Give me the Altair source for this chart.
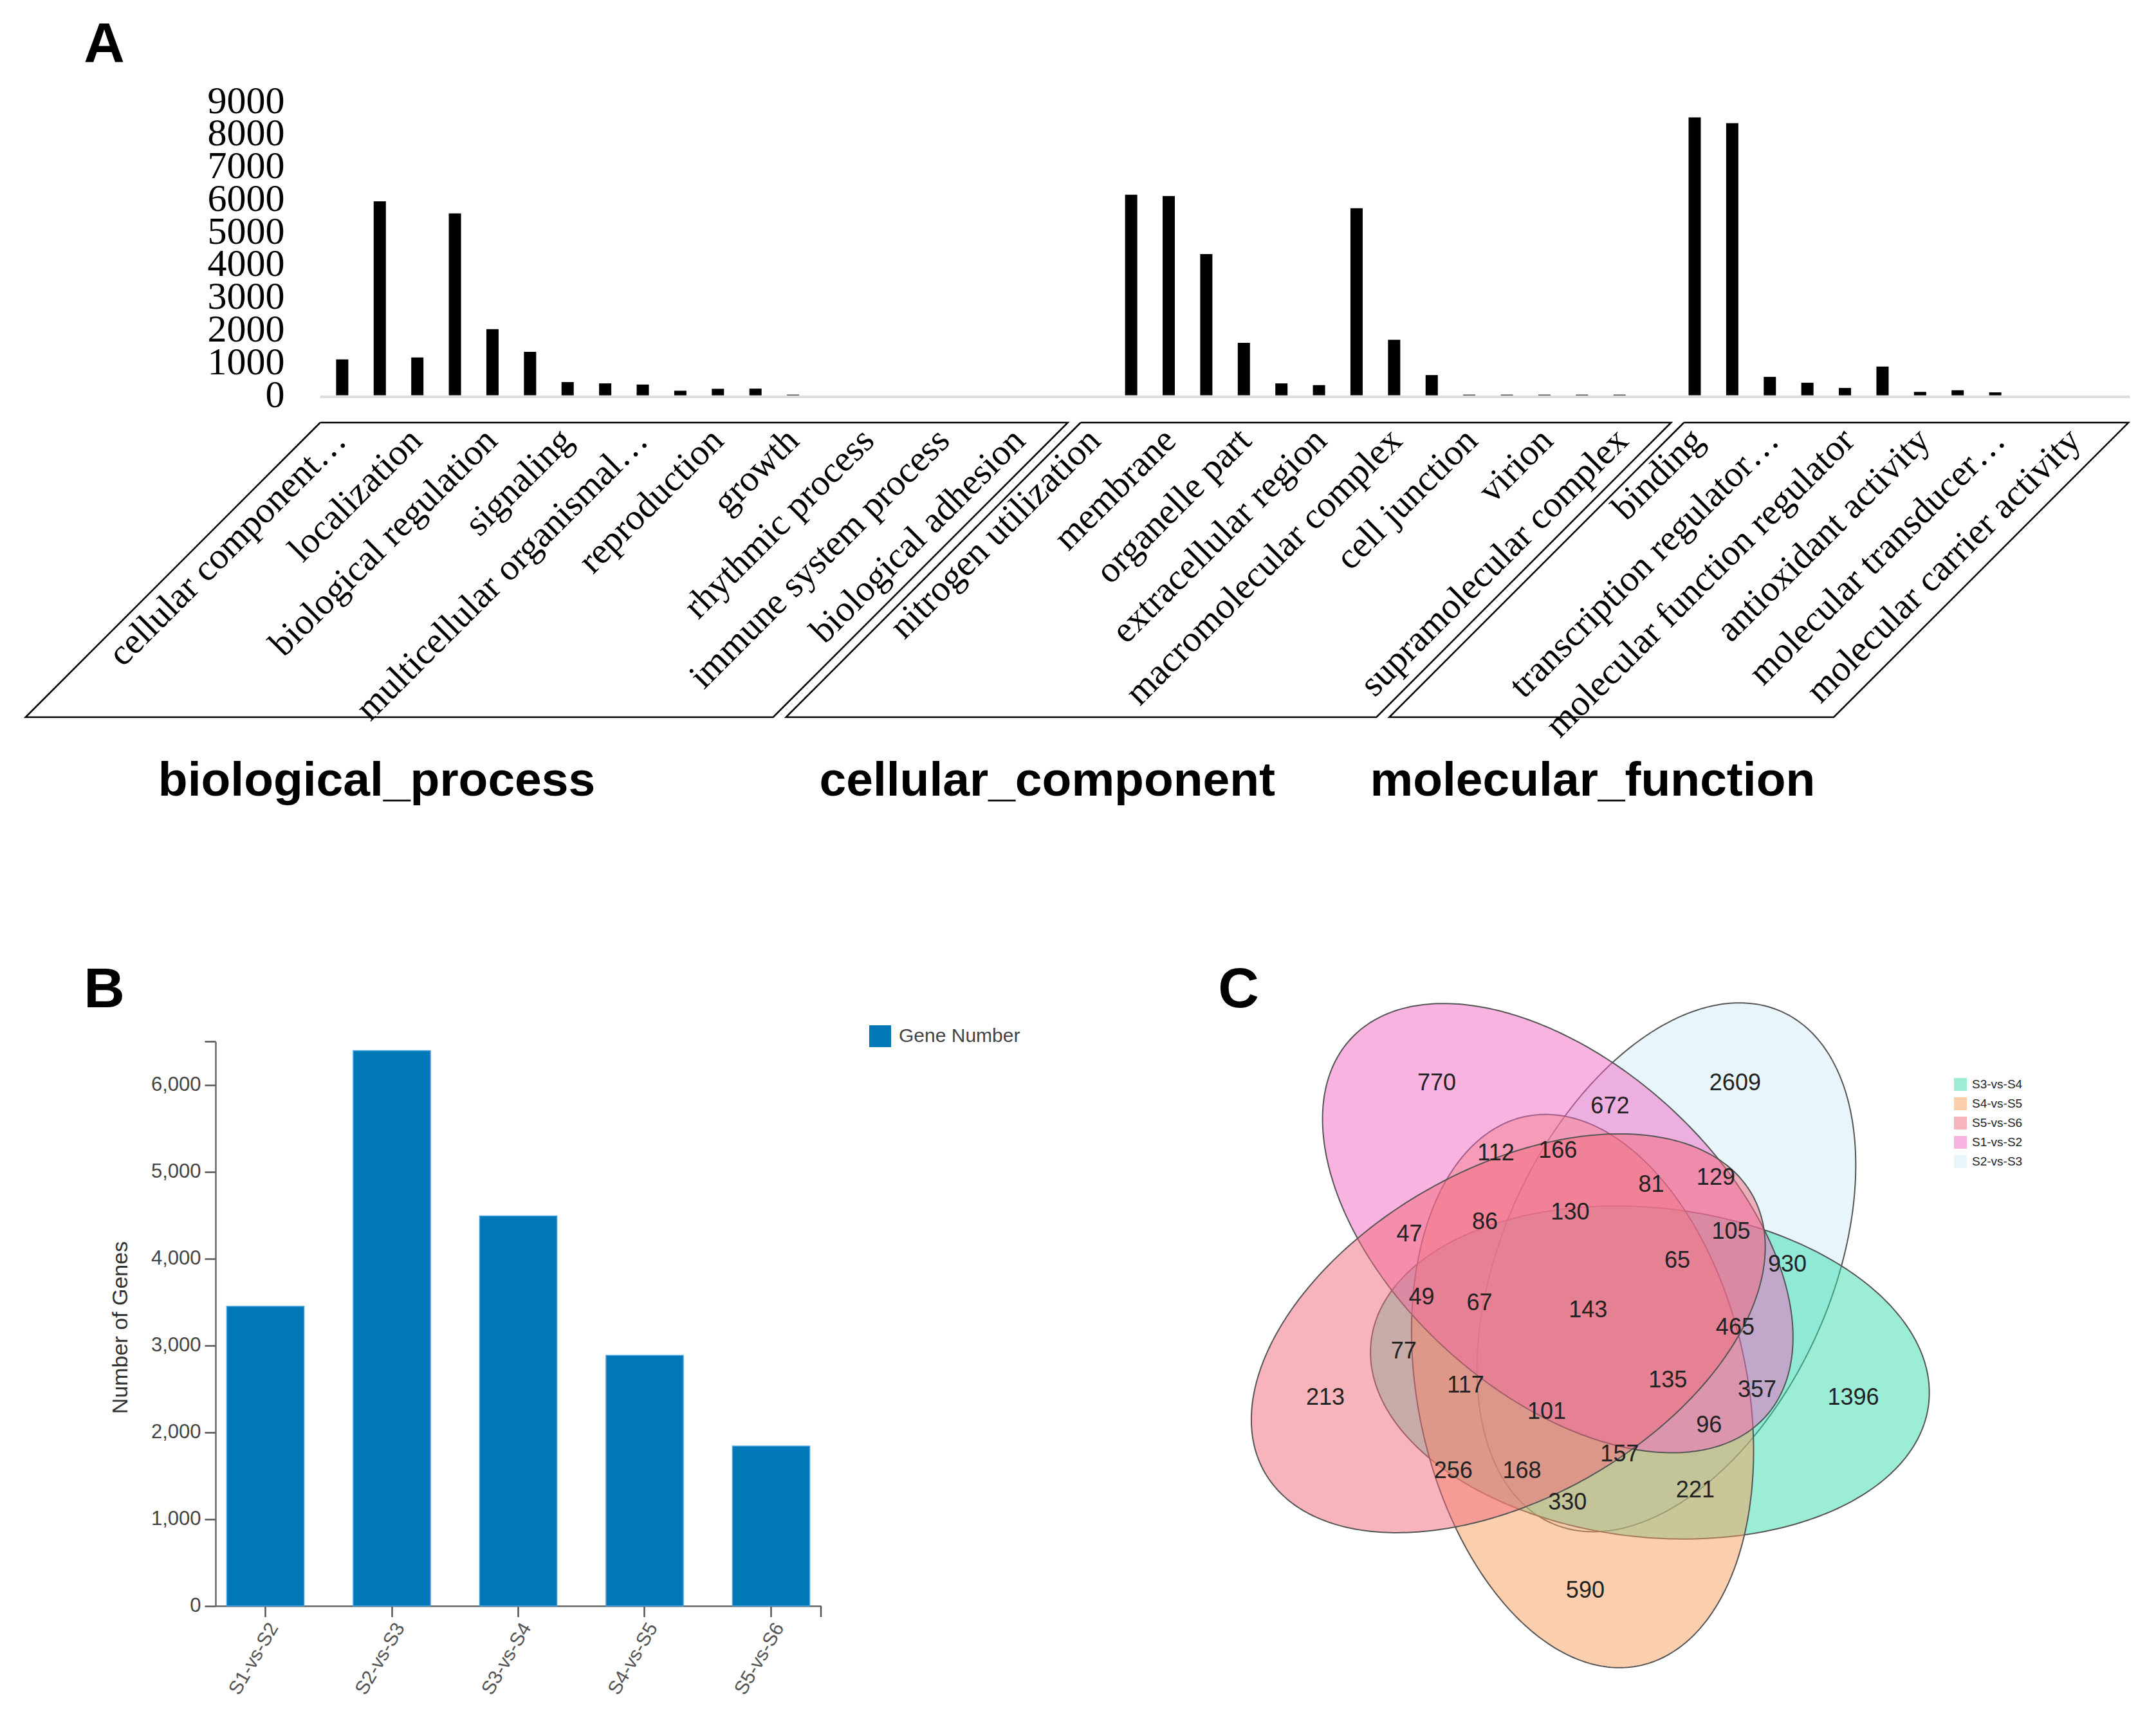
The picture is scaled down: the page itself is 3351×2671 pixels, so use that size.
import math
import numpy as np
import pandas as pd
import altair as alt

# ---------------- Panel A : GO classification ----------------
go_counts = [1100, 5940, 1160, 5570, 2025, 1330, 405, 365, 330, 140, 200, 205, 20,
             0, 0, 0, 0, 0, 0, 0, 0,
             6140, 6100, 4325, 1605, 365, 310, 5725, 1700, 620,
             20, 20, 20, 20, 20, 0,
             8510, 8330, 565, 385, 225, 880, 105, 155, 90, 0, 0, 0]
go_labels = ["cellular component\u2026", "localization", "biological regulation", "signaling",
             "multicellular organismal\u2026", "reproduction", "growth", "rhythmic process",
             "immune system process", "biological adhesion", "nitrogen utilization",
             "membrane", "organelle part", "extracellular region", "macromolecular complex",
             "cell junction", "virion", "supramolecular complex",
             "binding", "transcription regulator\u2026", "molecular function regulator",
             "antioxidant activity", "molecular transducer\u2026", "molecular carrier activity"]
go_groups = ["biological_process", "cellular_component", "molecular_function"]
go_group_first = [0, 20, 36]
go_group_last = [19, 35, 47]
go_ticks = [0, 1000, 2000, 3000, 4000, 5000, 6000, 7000, 8000, 9000]

# ---------------- Panel B : DEG numbers ----------------
deg_pairs = ["S1-vs-S2", "S2-vs-S3", "S3-vs-S4", "S4-vs-S5", "S5-vs-S6"]
deg_counts = [3450, 6395, 4490, 2885, 1840]
deg_ticks = [0, 1000, 2000, 3000, 4000, 5000, 6000, 6500]

# ---------------- Panel C : Venn ----------------
venn_legend_order = ["S3-vs-S4", "S4-vs-S5", "S5-vs-S6", "S1-vs-S2", "S2-vs-S3"]
venn_legend_colors = ["#37dbad", "#f79f5d", "#f16979", "#f167c1", "#d1edf9"]
# drawing order and ellipse shapes (diagram units, y up)
venn_sets = ["S2-vs-S3", "S3-vs-S4", "S4-vs-S5", "S1-vs-S2", "S5-vs-S6"]
venn_cx = [114.1, 88.5, -16.2, -54.7, -131.6]
venn_cy = [79.1, -84.4, -113.3, 140.0, -23.5]
venn_a = [436, 436, 436, 436, 436]
venn_b = [256, 256, 256, 256, 256]
venn_rot = [65.7, -6.3, -78.3, 137.7, 29.7]
venn_counts = [770, 2609, 672, 112, 166, 81, 129, 47, 86, 130, 105, 65, 930, 49, 67, 143,
               465, 77, 1396, 213, 117, 135, 357, 101, 96, 157, 256, 168, 221, 330, 590]
venn_lx = [-242.8, 221.0, 26.5, -150.9, -54.7, 90.6, 191.0, -285.5, -168.0, -35.5, 214.6,
           131.2, 302.2, -266.3, -176.5, -7.7, 221.0, -294.1, 404.7, -415.9, -197.9, 116.3,
           255.2, -71.8, 180.4, 41.5, -217.1, -110.3, 159.0, -39.7, -12.0]
venn_ly = [365.4, 365.4, 329.1, 256.4, 260.7, 207.3, 218.0, 130.4, 149.6, 164.5, 134.6,
           89.8, 83.3, 32.1, 23.5, 12.8, -15.0, -51.3, -123.9, -123.9, -104.7, -96.2,
           -111.1, -145.3, -166.7, -211.6, -237.2, -237.2, -267.1, -286.4, -423.1]

# ---------------- layout ----------------
W, H = 3335, 2655
M = 8


def cv(p):
    return p - M


# Panel A geometry (page pixels)
A_X0, A_X1 = 497.7, 3310.5
A_Y0, A_Y9 = 614.6, 157.5
n_go = len(go_counts)
XA = alt.Scale(domain=[-0.5, n_go - 0.5], range=[cv(A_X0), cv(A_X1)], nice=False, zero=False)
YA = alt.Scale(domain=[0, 9000], range=[cv(A_Y0), cv(A_Y9)], nice=False, zero=False)
step = (A_X1 - A_X0) / n_go
upp = 9000 / (A_Y0 - A_Y9)
box_top_px, box_bot_px = 657, 1115
v_top = (A_Y0 - box_top_px) * upp
v_bot = (A_Y0 - box_bot_px) * upp
slant = (box_bot_px - box_top_px) / step
gap = 0.17

bars_df = pd.DataFrame({"i": list(range(n_go)), "v": go_counts})
bars_a = alt.Chart(bars_df).mark_bar(size=19, color="black").encode(
    x=alt.X("i:Q", scale=XA, axis=None),
    y=alt.Y("v:Q", scale=YA, axis=None),
)

base_df = pd.DataFrame({"x0": [-0.5], "x1": [n_go - 0.5], "y": [0]})
base_a = alt.Chart(base_df).mark_rule(color="#dcdcdc", strokeWidth=4, yOffset=2.5).encode(
    x=alt.X("x0:Q", scale=XA, axis=None), x2="x1:Q",
    y=alt.Y("y:Q", scale=YA, axis=None),
)

ytick_df = pd.DataFrame({"v": go_ticks, "t": [str(v) for v in go_ticks]})
yt_a = alt.Chart(ytick_df).mark_text(align="right", baseline="middle", font="Liberation Serif",
                                      fontSize=60, color="black").encode(
    y=alt.Y("v:Q", scale=YA, axis=None), x=alt.value(cv(442.5)), text="t:N")

lab_df = pd.DataFrame({"xi": [2 * k + 0.04 for k in range(len(go_labels))], "t": go_labels})
lab_a = alt.Chart(lab_df).mark_text(angle=315, align="right", baseline="middle",
                                    font="Liberation Serif", fontSize=57, color="black").encode(
    x=alt.X("xi:Q", scale=XA, axis=None), y=alt.value(cv(676)), text="t:N")

box_rows, title_rows = [], []
ng = len(go_groups)
title_shift = [-0.6, -0.9, -0.5]
for g in range(ng):
    l = go_group_first[g] - 0.5 + (gap if g > 0 else 0)
    r = go_group_last[g] + 0.5 - (gap if g < ng - 1 else 0.04)
    pts = [(l, v_top), (r, v_top), (r - slant, v_bot), (l - slant, v_bot), (l, v_top)]
    for k, (px_, py_) in enumerate(pts):
        box_rows.append({"g": go_groups[g], "k": k, "x": px_, "y": py_})
    title_rows.append({"t": go_groups[g], "x": (l + r) / 2 - slant + title_shift[g]})
box_df = pd.DataFrame(box_rows)
boxes_a = alt.Chart(box_df).mark_line(color="black", strokeWidth=2.5, strokeJoin="miter").encode(
    x=alt.X("x:Q", scale=XA, axis=None), y=alt.Y("y:Q", scale=YA, axis=None),
    detail="g:N", order="k:Q")

title_df = pd.DataFrame(title_rows)
titles_a = alt.Chart(title_df).mark_text(align="center", baseline="alphabetic",
                                         font="Liberation Sans", fontWeight="bold",
                                         fontSize=75, color="black").encode(
    x=alt.X("x:Q", scale=XA, axis=None), y=alt.value(cv(1237)), text="t:N")

# ---------------- Panel B ----------------
XB = alt.Scale(domain=deg_pairs, range=[cv(335), cv(1276)], paddingInner=0.389, paddingOuter=0.089)
YB = alt.Scale(domain=[0, 6500], range=[cv(2496.7), cv(1619.3)], nice=False, zero=True)
deg_df = pd.DataFrame({"pair": deg_pairs, "n": deg_counts, "series": ["Gene Number"] * 5})
bars_b = alt.Chart(deg_df).mark_bar(stroke="#45a3dd", strokeWidth=1.5).encode(
    x=alt.X("pair:N", scale=XB, sort=deg_pairs,
            axis=alt.Axis(orient="bottom", offset=cv(2496.7) - H, title=None, labelAngle=300,
                          labelAlign="right", labelBaseline="top", labelFont="Liberation Sans",
                          labelFontSize=30, labelColor="#555555", labelPadding=4, tickSize=17,
                          tickColor="#555555", tickWidth=2.5, domainColor="#666666",
                          domainWidth=2.5, grid=False, labelLimit=0)),
    y=alt.Y("n:Q", scale=YB,
            axis=alt.Axis(orient="left", offset=-cv(335), values=deg_ticks,
                          labelExpr="datum.value > 6000 ? '' : format(datum.value, ',')",
                          title=None, grid=False, domainColor="#666666", domainWidth=2.5,
                          tickColor="#555555", tickWidth=2.5, tickSize=17,
                          labelFont="Liberation Sans", labelFontSize=31, labelColor="#444444",
                          labelPadding=6, labelFlush=False, labelOverlap=False, labelLimit=0)),
    color=alt.Color("series:N", scale=alt.Scale(domain=["Gene Number"], range=["#0077b6"]),
                    legend=alt.Legend(orient="none", legendX=cv(1351), legendY=cv(1594),
                                      title=None, symbolType="square", symbolSize=1156,
                                      symbolStrokeWidth=0, symbolOpacity=1, labelLimit=0,
                                      labelFont="Liberation Sans", labelFontSize=30,
                                      labelColor="#444444", labelOffset=12)),
)
endtick_b = alt.Chart(pd.DataFrame({"a": [0]})).mark_rule(color="#555555", strokeWidth=2.5).encode(
    x=alt.value(cv(1276)), y=alt.value(cv(2497)), y2=alt.value(cv(2514)))
ytitle_b = alt.Chart(pd.DataFrame({"t": ["Number of Genes"]})).mark_text(
    angle=270, align="center", baseline="middle", font="Liberation Sans", fontSize=34,
    color="#333333").encode(x=alt.value(cv(188)), y=alt.value(cv(2064)), text="t:N")

# ---------------- Panel C : Venn ----------------
VC_X, VC_Y = 2475.9, 2049.4
proj = dict(type="identity", reflectY=True, scale=1, translate=[cv(VC_X), cv(VC_Y)])
features = []
tt = np.linspace(0, 2 * np.pi, 361)
for name, ex, ey, ea, eb, er in zip(venn_sets, venn_cx, venn_cy, venn_a, venn_b, venn_rot):
    ca, sa = math.cos(math.radians(er)), math.sin(math.radians(er))
    xs = ex + ea * np.cos(tt) * ca - eb * np.sin(tt) * sa
    ys = ey + ea * np.cos(tt) * sa + eb * np.sin(tt) * ca
    ring = [[round(float(x), 2), round(float(y), 2)] for x, y in zip(xs, ys)]
    features.append({"type": "Feature", "properties": {"set": name},
                     "geometry": {"type": "Polygon", "coordinates": [ring]}})

venn_shapes = alt.Chart(alt.Data(values=features)).mark_geoshape(
    fillOpacity=0.5, stroke="#555555", strokeWidth=2).encode(
    color=alt.Color("properties.set:N",
                    scale=alt.Scale(domain=venn_legend_order, range=venn_legend_colors),
                    legend=alt.Legend(orient="none", legendX=cv(3037), legendY=cv(1676),
                                      title=None, symbolType="square", symbolSize=400,
                                      symbolStrokeWidth=0, symbolOpacity=0.5, labelLimit=0,
                                      labelFont="Liberation Sans", labelFontSize=19,
                                      labelColor="#222222", labelOffset=8, rowPadding=10))
).project(**proj)

venn_df = pd.DataFrame({"vx": venn_lx, "vy": venn_ly, "c": [str(c) for c in venn_counts]})
venn_text = alt.Chart(venn_df).mark_text(font="Liberation Sans", fontSize=36, color="#222222",
                                         align="center", baseline="middle").encode(
    longitude="vx:Q", latitude="vy:Q", text="c:N").project(**proj)

# ---------------- panel letters ----------------
letters = []
for txt, lx, ly in [("A", 162, 96), ("B", 162, 1566), ("C", 1925, 1566)]:
    letters.append(alt.Chart(pd.DataFrame({"t": [txt]})).mark_text(
        align="center", baseline="alphabetic", font="Liberation Sans", fontWeight="bold",
        fontSize=88, color="black").encode(x=alt.value(cv(lx)), y=alt.value(cv(ly)), text="t:N"))

chart = alt.layer(
    base_a, bars_a, yt_a, lab_a, boxes_a, titles_a,
    bars_b, endtick_b, ytitle_b,
    venn_shapes, venn_text,
    *letters,
).resolve_scale(
    x="independent", y="independent", color="independent"
).resolve_legend(color="independent").properties(
    width=W, height=H, autosize=alt.AutoSizeParams(type="none"), padding=0
).configure_view(stroke=None)

chart.save("out.html", embed_options={"renderer": "svg", "actions": False})
